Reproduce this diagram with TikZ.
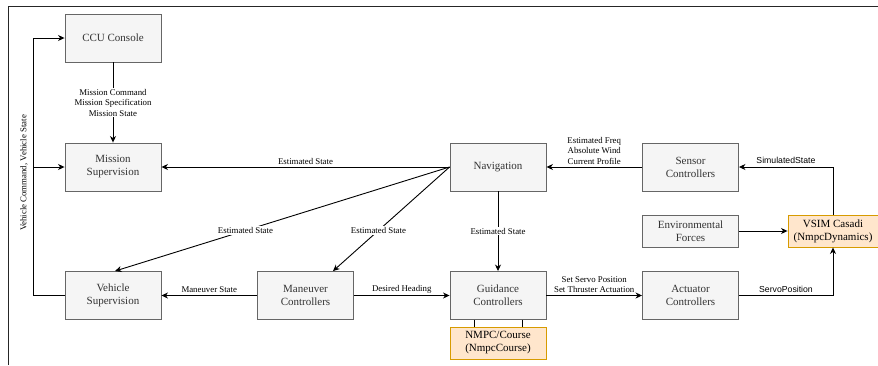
\documentclass[tikz,border=0pt]{standalone}
\usepackage{fontspec}
\setmainfont{Liberation Serif}
\newfontfamily\arialfont{Liberation Sans}
\usetikzlibrary{arrows.meta,positioning,calc}
\definecolor{boxfill}{HTML}{F5F5F5}
\definecolor{boxline}{HTML}{666666}
\definecolor{boxtext}{HTML}{333333}
\definecolor{orfill}{HTML}{FFE6CC}
\definecolor{orline}{HTML}{D79B00}
\tikzset{
  blk/.style={draw=boxline, fill=boxfill, line width=0.9pt, minimum width=96pt, minimum height=48pt,
    inner sep=0pt, align=center, text=boxtext, font=\fontsize{11}{13}\selectfont},
  orbox/.style={draw=orline, fill=orfill, line width=0.9pt, minimum width=96pt, minimum height=32pt,
    inner sep=0pt, align=center, text=black, font=\fontsize{11}{13}\selectfont},
  conn/.style={draw=black, line width=0.9pt},
  arr/.style={conn, -{Stealth[length=6.5pt,width=6pt,inset=2pt]}},
  lbl/.style={font=\fontsize{8.8}{10.5}\selectfont, align=center, inner sep=1pt, text=black},
  lblw/.style={lbl, fill=white},
  slbl/.style={font=\arialfont\fontsize{8.7}{10.5}\selectfont, inner sep=1.5pt, text=black}
}
\begin{document}
\begin{tikzpicture}[x=1pt,y=-1pt]
\path[use as bounding box] (0,0) rectangle (878,365);
% frame
\draw[line width=1pt, black!85] (8,365) -- (8,6) -- (878,6);
% nodes
\node[blk] (ccu) at (113,38) {CCU Console};
\node[blk] (ms) at (113,167) {Mission\\Supervision};
\node[blk] (vs) at (113,295.5) {Vehicle\\Supervision};
\node[blk] (mc) at (305.5,295.5) {Maneuver\\Controllers};
\node[blk] (gc) at (498,295.5) {Guidance\\Controllers};
\node[orbox] (nmpc) at (498,343) {NMPC/Course\\(NmpcCourse)};
\node[blk] (nav) at (498,167) {Navigation};
\node[blk] (sc) at (690.5,167) {Sensor\\Controllers};
\node[blk, minimum height=32pt] (ef) at (690.5,231) {Environmental\\Forces};
\node[orbox, minimum width=90pt] (vsim) at (833,231) {VSIM Casadi\\(NmpcDynamics)};
\node[blk] (ac) at (690.5,295.5) {Actuator\\Controllers};
% left bus
\coordinate (busB) at (33,295.5);
\coordinate (busM) at (33,167);
\draw[arr] (vs.west) -- (busB) |- (ccu.west);
\draw[arr] (busM) -- (ms.west);
\node[lbl, rotate=90] (vlab) at (24,173) {Vehicle Command, Vehicle State};
% CCU -> Mission
\draw[arr] (ccu.south) -- node[lblw] {Mission Command\\Mission Specification\\Mission State} (ms.north);
% Navigation -> Mission
\draw[arr] (nav.west) -- node[lbl, above=1pt] {Estimated State} (ms.east);
% Sensor -> Navigation
\draw[arr] (sc.west) -- node[lbl, above=1pt] {Estimated Freq\\Absolute Wind\\Current Profile} (nav.east);
% VSIM -> Sensor
\draw[arr] (vsim.north) |- node[slbl, pos=0.75, above=1pt] {SimulatedState} (sc.east);
% Env -> VSIM
\draw[arr] (ef.east) -- (vsim.west);
% Actuator -> VSIM
\draw[arr] (ac.east) -| node[slbl, pos=0.25, above=1pt] {ServoPosition} (vsim.south);
% Guidance -> Actuator
\draw[arr] (gc.east) -- node[lbl, above=1pt] {Set Servo Position\\Set Thruster Actuation} (ac.west);
% Maneuver -> Guidance
\draw[arr] (mc.east) -- node[lbl, above=1pt] {Desired Heading} (gc.west);
% Maneuver -> Vehicle
\draw[arr] (mc.west) -- node[lbl, above=1pt] {Maneuver State} (vs.east);
% Navigation -> Guidance
\draw[arr] (nav.south) -- node[lblw] {Estimated State} (gc.north);
% Navigation -> Maneuver
\draw[arr] (nav.west) -- node[lblw, pos=0.61] {Estimated State} ([xshift=27.5pt]mc.north);
% Navigation -> Vehicle
\draw[arr] (nav.west) -- node[lblw, pos=0.61] {Estimated State} ([xshift=2pt]vs.north);
% Guidance -- NMPC
\draw[conn] ([xshift=-24pt]gc.south) -- ([xshift=-24pt]nmpc.north);
\draw[conn] ([xshift=24pt]gc.south) -- ([xshift=24pt]nmpc.north);
\end{tikzpicture}
\end{document}
